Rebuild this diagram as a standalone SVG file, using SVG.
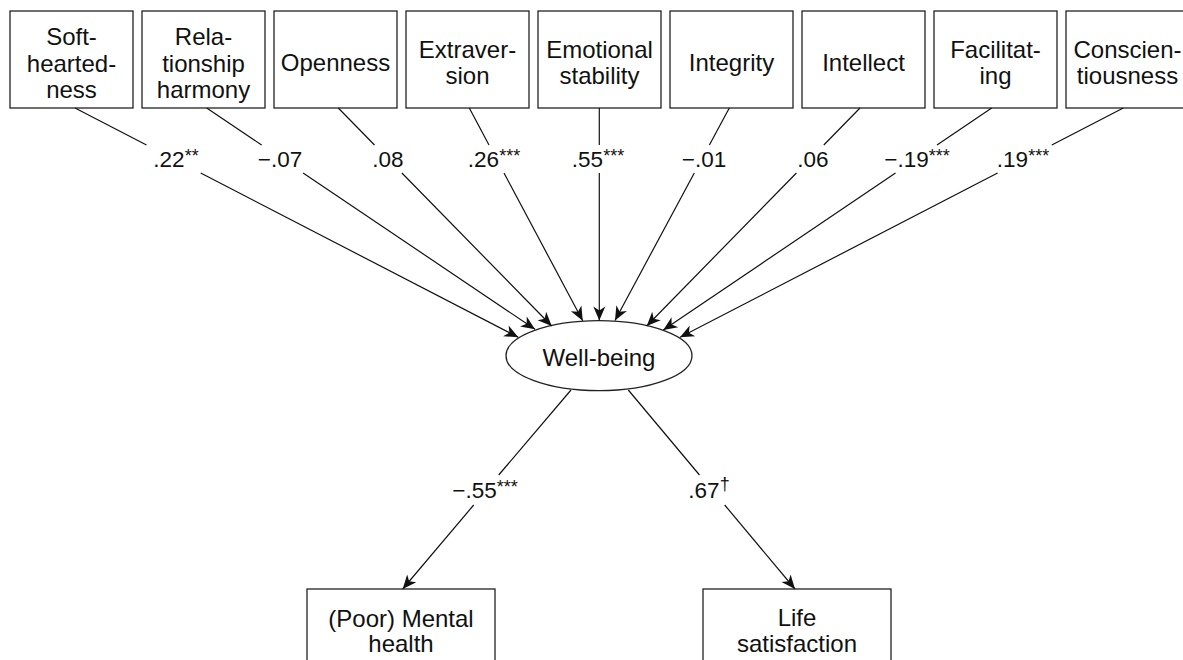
<svg xmlns="http://www.w3.org/2000/svg" width="1183" height="660" viewBox="0 0 1183 660">
<style>
  .box { fill: #fff; stroke: #222; stroke-width: 1.3; }
  .t { font-family: "Liberation Sans", Arial, sans-serif; font-size: 24px; fill: #111; text-anchor: middle; }
  .lbl { font-family: "Liberation Sans", Arial, sans-serif; font-size: 22.5px; fill: #111; text-anchor: middle; }
  .sup { font-size: 18px; }
  .edge { fill: none; stroke: #111; stroke-width: 1.2; }
</style>
<defs>
  <marker id="arr" markerUnits="userSpaceOnUse" markerWidth="18" markerHeight="16" viewBox="-16 -8 18 16" refX="0" refY="0" orient="auto">
    <path d="M0,0 L-14,-6 L-10,0 L-14,6 Z" fill="#111"/>
  </marker>
</defs>
<rect width="1183" height="660" fill="#fff"/>

<g id="soft">
  <rect class="box" x="10" y="11" width="123" height="97"/>
  <text class="t" x="71.5" y="45">Soft-</text>
  <text class="t" x="71.5" y="71.5">hearted-</text>
  <text class="t" x="71.5" y="97.5">ness</text>
</g>
<g id="relationship">
  <rect class="box" x="142" y="11" width="123" height="97"/>
  <text class="t" x="203.5" y="45">Rela-</text>
  <text class="t" x="203.5" y="71.5">tionship</text>
  <text class="t" x="203.5" y="97.5">harmony</text>
</g>
<g id="openness">
  <rect class="box" x="274" y="11" width="123" height="97"/>
  <text class="t" x="335.5" y="70.5">Openness</text>
</g>
<g id="extraversion">
  <rect class="box" x="406" y="11" width="123" height="97"/>
  <text class="t" x="467.5" y="57.5">Extraver-</text>
  <text class="t" x="467.5" y="83.5">sion</text>
</g>
<g id="emotional">
  <rect class="box" x="538" y="11" width="123" height="97"/>
  <text class="t" x="599.5" y="57.5">Emotional</text>
  <text class="t" x="599.5" y="83.5">stability</text>
</g>
<g id="integrity">
  <rect class="box" x="670" y="11" width="123" height="97"/>
  <text class="t" x="731.5" y="70.5">Integrity</text>
</g>
<g id="intellect">
  <rect class="box" x="802" y="11" width="123" height="97"/>
  <text class="t" x="863.5" y="70.5">Intellect</text>
</g>
<g id="facilitating">
  <rect class="box" x="934" y="11" width="123" height="97"/>
  <text class="t" x="995.5" y="57.5">Facilitat-</text>
  <text class="t" x="995.5" y="83.5">ing</text>
</g>
<g id="conscientiousness">
  <rect class="box" x="1066" y="11" width="123" height="97"/>
  <text class="t" x="1127.5" y="57.5">Conscien-</text>
  <text class="t" x="1127.5" y="83.5">tiousness</text>
</g>

<g id="wellbeing">
  <ellipse class="box" cx="599" cy="355.7" rx="93" ry="35"/>
  <text class="t" x="599" y="366">Well-being</text>
</g>

<g id="mental">
  <rect class="box" x="307" y="589" width="188" height="97"/>
  <text class="t" x="401" y="626.5">(Poor) Mental</text>
  <text class="t" x="401" y="652">health</text>
</g>
<g id="life">
  <rect class="box" x="703" y="589" width="188" height="97"/>
  <text class="t" x="797" y="625.5">Life</text>
  <text class="t" x="797" y="652">satisfaction</text>
</g>

<g id="connectors">
  <line class="edge" x1="75" y1="108" x2="146.5" y2="145"/>
  <line class="edge" x1="200.7" y1="173" x2="518.3" y2="337.3" marker-end="url(#arr)"/>
  <line class="edge" x1="206.7" y1="108" x2="261.6" y2="145"/>
  <line class="edge" x1="303.1" y1="173" x2="535" y2="329.3" marker-end="url(#arr)"/>
  <line class="edge" x1="338.3" y1="108" x2="374.5" y2="145"/>
  <line class="edge" x1="401.9" y1="173" x2="551.7" y2="326" marker-end="url(#arr)"/>
  <line class="edge" x1="469.3" y1="108" x2="489" y2="145"/>
  <line class="edge" x1="504" y1="173" x2="582.7" y2="320.7" marker-end="url(#arr)"/>
  <line class="edge" x1="599.3" y1="108" x2="599.3" y2="145"/>
  <line class="edge" x1="599.3" y1="173" x2="599.3" y2="320.5" marker-end="url(#arr)"/>
  <line class="edge" x1="729.3" y1="108" x2="709.4" y2="145"/>
  <line class="edge" x1="694.3" y1="173" x2="615" y2="320.5" marker-end="url(#arr)"/>
  <line class="edge" x1="860" y1="108" x2="823.8" y2="145"/>
  <line class="edge" x1="796.4" y1="173" x2="646.7" y2="326" marker-end="url(#arr)"/>
  <line class="edge" x1="991.7" y1="108" x2="937" y2="145"/>
  <line class="edge" x1="895.5" y1="173" x2="663.3" y2="330" marker-end="url(#arr)"/>
  <line class="edge" x1="1123.3" y1="108" x2="1051.8" y2="145"/>
  <line class="edge" x1="997.6" y1="173" x2="680" y2="337.3" marker-end="url(#arr)"/>
  <line class="edge" x1="571" y1="390" x2="498.7" y2="475"/>
  <line class="edge" x1="473.7" y1="505" x2="402.7" y2="589" marker-end="url(#arr)"/>
  <line class="edge" x1="628.3" y1="390" x2="699.5" y2="475"/>
  <line class="edge" x1="724.7" y1="505" x2="795" y2="589" marker-end="url(#arr)"/>

  <text class="lbl" x="176" y="167">.22<tspan class="sup" dy="-5">**</tspan></text>
  <text class="lbl" x="280" y="167">−.07</text>
  <text class="lbl" x="388" y="167">.08</text>
  <text class="lbl" x="494" y="167">.26<tspan class="sup" dy="-5">***</tspan></text>
  <text class="lbl" x="598" y="167">.55<tspan class="sup" dy="-5">***</tspan></text>
  <text class="lbl" x="704" y="167">−.01</text>
  <text class="lbl" x="813" y="167">.06</text>
  <text class="lbl" x="917" y="167">−.19<tspan class="sup" dy="-5">***</tspan></text>
  <text class="lbl" x="1023" y="167">.19<tspan class="sup" dy="-5">***</tspan></text>
  <text class="lbl" x="485" y="498">−.55<tspan class="sup" dy="-5">***</tspan></text>
  <text class="lbl" x="709" y="498">.67<tspan class="sup" dy="-8" font-size="15">†</tspan></text>
</g>
</svg>
